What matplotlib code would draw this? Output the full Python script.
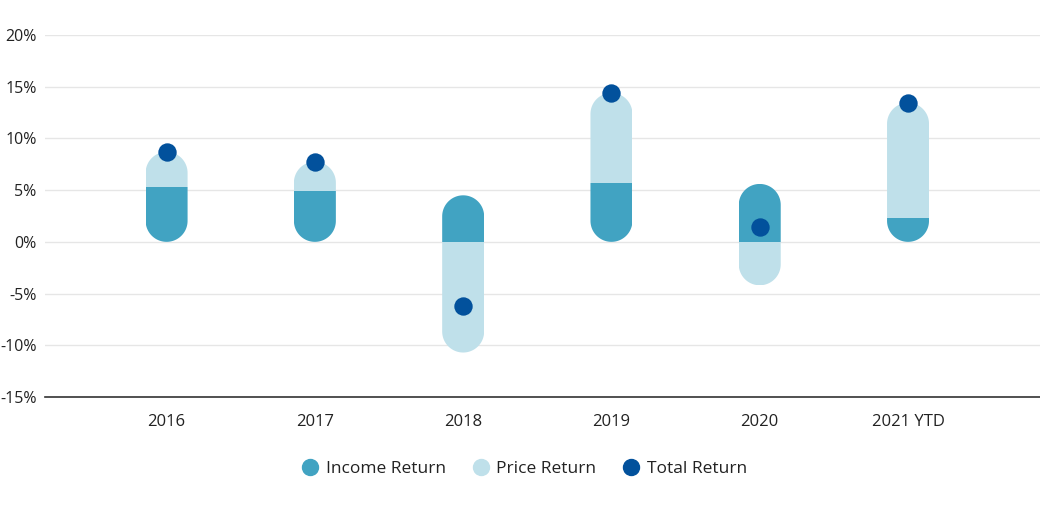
import numpy as np
import matplotlib
matplotlib.use("Agg")
import matplotlib.pyplot as plt
from matplotlib.patches import Polygon, Rectangle

years = ["2016", "2017", "2018", "2019", "2020", "2021 YTD"]
income_return = [5.35, 4.95, 4.5, 5.7, 5.6, 2.3]
price_return = [3.35, 2.8, -10.7, 8.7, -4.2, 11.15]
total_return = [8.7, 7.75, -6.2, 14.4, 1.45, 13.45]

income_col = "#41a3c2"
price_col = "#bfe0ea"
total_col = "#02519c"

plt.rcParams['font.family'] = ['Open Sans', 'DejaVu Sans']

fig = plt.figure(figsize=(10.4, 5.14), dpi=100)
ax = fig.add_axes([45 / 1040, 1 - 397 / 514, 995 / 1040, 362 / 514])
ax.set_xlim(-0.82, 5.89)
ax.set_ylim(-15, 20)

for s in ax.spines.values():
    s.set_visible(False)
ax.set_yticks(np.arange(-15, 21, 5))
ax.set_yticklabels([f"{v}%" for v in range(-15, 21, 5)])
ax.yaxis.grid(True, color="#e6e6e6", lw=1)
ax.set_axisbelow(True)
ax.axhline(-15, color="#333333", lw=1.2, zorder=3, clip_on=False)
ax.set_xticks(range(len(years)))
ax.set_xticklabels(years)
ax.tick_params(length=0, labelsize=12, colors="#222222")
ax.tick_params(axis="y", labelsize=11.5, pad=6)
ax.tick_params(axis="x", pad=12)

# capsule geometry: bar width in data units, round ends kept circular on screen
bw = 0.283
fig.canvas.draw()
px_x = ax.transData.transform((1, 0))[0] - ax.transData.transform((0, 0))[0]
px_y = ax.transData.transform((0, 1))[1] - ax.transData.transform((0, 0))[1]
rx = bw / 2
ry = rx * px_x / px_y


def capsule(xc, lo, hi):
    t_top = np.linspace(0, np.pi, 60)
    t_bot = np.linspace(np.pi, 2 * np.pi, 60)
    top = np.column_stack([xc + rx * np.cos(t_top), hi - ry + ry * np.sin(t_top)])
    bot = np.column_stack([xc + rx * np.cos(t_bot), lo + ry + ry * np.sin(t_bot)])
    return Polygon(np.vstack([top, bot]), closed=True, facecolor="none",
                   edgecolor="none")


for i in range(len(years)):
    inc, pr = income_return[i], price_return[i]
    if np.sign(inc) == np.sign(pr):
        p0, p1 = inc, inc + pr
    else:
        p0, p1 = 0, pr
    lo = min(0, inc, p0, p1)
    hi = max(0, inc, p0, p1)
    cap = capsule(i, lo, hi)
    ax.add_patch(cap)
    r1 = Rectangle((i - bw / 2, min(0, inc)), bw, abs(inc),
                   facecolor=income_col, edgecolor="none", zorder=2)
    r2 = Rectangle((i - bw / 2, min(p0, p1)), bw, abs(p1 - p0),
                   facecolor=price_col, edgecolor="none", zorder=2)
    for r in (r1, r2):
        ax.add_patch(r)
        r.set_clip_path(cap)

ax.scatter(range(len(years)), total_return, s=175, color=total_col,
           zorder=4, linewidths=0)

handles = [
    plt.Line2D([], [], marker="o", ls="", ms=11.5, color=income_col, label="Income Return"),
    plt.Line2D([], [], marker="o", ls="", ms=11.5, color=price_col, label="Price Return"),
    plt.Line2D([], [], marker="o", ls="", ms=11.5, color=total_col, label="Total Return"),
]
fig.legend(handles=handles, loc="center", bbox_to_anchor=(0.5, 1 - 469 / 514),
           ncol=3, frameon=False, fontsize=12.5, handletextpad=-0.1,
           columnspacing=1.0, labelcolor="#222222")

fig.savefig("out.png", dpi=100)
